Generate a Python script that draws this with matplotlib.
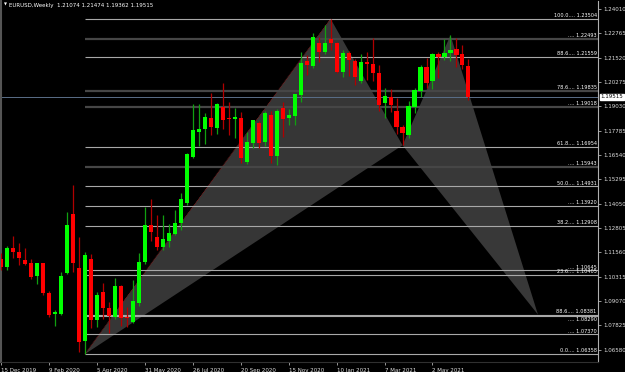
import numpy as np
import matplotlib
matplotlib.use("Agg")
import matplotlib.pyplot as plt

# weekly EURUSD candles, first week starts 15 Dec 2019
opens = [1.1120, 1.1080, 1.1176, 1.1160, 1.1117, 1.1100, 1.1035, 1.1100, 1.0948, 1.0840,
         1.0840, 1.1050, 1.1352, 1.1074, 1.0702, 1.1122, 1.0810, 1.0953, 1.0872, 1.0826,
         1.0984, 1.0826, 1.0800, 1.0897, 1.1107, 1.1296, 1.1235, 1.1184, 1.1214, 1.1250,
         1.1306, 1.1409, 1.1644, 1.1772, 1.1787, 1.1843, 1.1792, 1.1900, 1.1842, 1.1838,
         1.1843, 1.1618, 1.1716, 1.1818, 1.1720, 1.1860, 1.1650, 1.1895, 1.1843, 1.1853,
         1.1961, 1.2135, 1.2110, 1.2227, 1.2181, 1.2248, 1.2227, 1.2079, 1.2176, 1.2135,
         1.2033, 1.2130, 1.2120, 1.2074, 1.1920, 1.1951, 1.1879, 1.1797, 1.1757, 1.1900,
         1.1980, 1.2104, 1.2033, 1.2171, 1.2155, 1.2176, 1.2197, 1.2171, 1.21074]
highs = [1.1153, 1.1188, 1.1239, 1.1205, 1.1178, 1.1122, 1.1100, 1.1102, 1.0958, 1.0860,
         1.1055, 1.1362, 1.1500, 1.1237, 1.1160, 1.1147, 1.0952, 1.0999, 1.0900, 1.1025,
         1.0990, 1.0875, 1.1015, 1.1153, 1.1388, 1.1429, 1.1348, 1.1349, 1.1303, 1.1373,
         1.1460, 1.1665, 1.1915, 1.1916, 1.1869, 1.1971, 1.1922, 1.2023, 1.1925, 1.1894,
         1.1874, 1.1772, 1.1833, 1.1830, 1.1881, 1.1880, 1.1890, 1.1926, 1.1890, 1.1967,
         1.2181, 1.2167, 1.2278, 1.2258, 1.2319, 1.2350, 1.2230, 1.2190, 1.2186, 1.2144,
         1.2170, 1.2181, 1.2253, 1.2114, 1.1997, 1.1990, 1.1945, 1.1810, 1.1928, 1.1995,
         1.2117, 1.2150, 1.2177, 1.2182, 1.2245, 1.2266, 1.2254, 1.2218, 1.21474]
lows = [1.1066, 1.1068, 1.1125, 1.1090, 1.1090, 1.1020, 1.0995, 1.0940, 1.0827, 1.0780,
        1.0835, 1.1045, 1.1055, 1.0645, 1.0636, 1.0769, 1.0774, 1.0814, 1.0744, 1.0815,
        1.0782, 1.0775, 1.0795, 1.0880, 1.1095, 1.1215, 1.1168, 1.1167, 1.1186, 1.1245,
        1.1270, 1.1400, 1.1640, 1.1700, 1.1711, 1.1756, 1.1762, 1.1787, 1.1756, 1.1740,
        1.1613, 1.1610, 1.1688, 1.1689, 1.1700, 1.1612, 1.1603, 1.1745, 1.1809, 1.1810,
        1.1925, 1.2063, 1.2100, 1.2130, 1.2170, 1.2192, 1.2075, 1.2053, 1.2059, 1.2012,
        1.2022, 1.2037, 1.2033, 1.1880, 1.1843, 1.1873, 1.1761, 1.1704, 1.1743, 1.1870,
        1.1950, 1.1995, 1.1990, 1.2050, 1.2140, 1.2134, 1.2104, 1.2094, 1.19362]
closes = [1.1079, 1.1176, 1.1160, 1.1127, 1.1097, 1.1030, 1.1100, 1.0948, 1.0834, 1.0851,
          1.1035, 1.1296, 1.1102, 1.0700, 1.1143, 1.0810, 1.0938, 1.0872, 1.0831, 1.0984,
          1.0820, 1.0820, 1.0907, 1.1107, 1.1296, 1.1260, 1.1184, 1.1225, 1.1255, 1.1306,
          1.1429, 1.1659, 1.1782, 1.1787, 1.1849, 1.1797, 1.1915, 1.1833, 1.1838, 1.1848,
          1.1639, 1.1721, 1.1833, 1.1716, 1.1869, 1.1650, 1.1880, 1.1838, 1.1858, 1.1966,
          1.2125, 1.2115, 1.2258, 1.2181, 1.2227, 1.2227, 1.2079, 1.2176, 1.2140, 1.2053,
          1.2130, 1.2120, 1.2074, 1.1910, 1.1956, 1.1910, 1.1797, 1.1767, 1.1905, 1.1987,
          1.2104, 1.2023, 1.2171, 1.2155, 1.2176, 1.2192, 1.2166, 1.2115, 1.19515]

date_labels = ["15 Dec 2019", "9 Feb 2020", "5 Apr 2020", "31 May 2020", "26 Jul 2020",
               "20 Sep 2020", "15 Nov 2020", "10 Jan 2021", "7 Mar 2021", "2 May 2021"]
date_idx = [0, 8, 16, 24, 32, 40, 48, 56, 64, 72]

price_ticks = [1.24010, 1.22765, 1.21520, 1.20275, 1.19030, 1.17785, 1.16540, 1.15295,
               1.14050, 1.12805, 1.11560, 1.10315, 1.09070, 1.07825, 1.06580]

# fibo levels: (label, price)
fib_names = ["100.0", "", "88.6", "78.6", "", "61.8", "", "50.0", "", "38.2",
             "", "23.6", "88.6", "", "", "0.0"]
fib_prices = [1.23504, 1.22493, 1.21559, 1.19835, 1.19018, 1.16954, 1.15943, 1.14931,
              1.13920, 1.12908, 1.10645, 1.10405, 1.08381, 1.08290, 1.07370, 1.06358]
fib_dark = [False, True, False, True, True, False, True, False,
            False, False, False, False, False, False, False, False]

# harmonic pattern points X, A, B, C, D
pat_idx = [14, 55, 67, 75, 89.6]
pat_price = [1.06358, 1.23504, 1.1704, 1.2267, 1.08381]

last_price = 1.19515
header = "EURUSD,Weekly  1.21074 1.21474 1.19362 1.19515"

bg = "black"
fig = plt.figure(figsize=(6.25, 3.72), dpi=100, facecolor=bg)
ax = fig.add_axes([1 / 625, 10 / 372, 597 / 625, 361 / 372], facecolor=bg)

x = np.arange(len(opens))
o = np.array(opens)
c = np.array(closes)
up = c >= o

# pattern triangles
X, A, B, C, D = list(zip(pat_idx, pat_price))
ax.fill([X[0], A[0], B[0]], [X[1], A[1], B[1]], color="#363636", zorder=1, lw=0)
ax.fill([B[0], C[0], D[0]], [B[1], C[1], D[1]], color="#383838", zorder=1, lw=0)
ax.plot([X[0], A[0]], [X[1], A[1]], color="#8a1a1a", lw=0.6, ls=(0, (1, 1)), zorder=1.5)

# fibo lines
xr = 99.6
for k, (name, p, dark) in enumerate(zip(fib_names, fib_prices, fib_dark)):
    if dark:
        ax.hlines(p, pat_idx[0], xr, color="#464646", lw=1.6, zorder=2)
    else:
        ax.hlines(p, pat_idx[0], xr, color="#a8a8a8", lw=0.8, zorder=2)
    # the second 1.08 label sits under its line so the two do not pile up
    if p == 1.08290:
        ax.text(xr - 0.2, p - 0.0003, f"{name}.... {p:.5f}", color="white",
                fontsize=3.6, ha="right", va="top", zorder=5)
    else:
        ax.text(xr - 0.2, p + 0.0004, f"{name}.... {p:.5f}", color="white",
                fontsize=3.6, ha="right", va="bottom", zorder=5)

# current price line
ax.axhline(last_price, color="#5a6e88", lw=0.7, zorder=2)

# candles
wick_col = np.where(up, "#10a010", "#b00000")
body_col = np.where(up, "#00ff00", "#ff0000")
ax.vlines(x, lows, highs, colors=wick_col, lw=0.9, zorder=3)
h = np.maximum(np.abs(c - o), 0.0003)
ax.bar(x, h, bottom=np.minimum(o, c), width=0.68, color=body_col, lw=0, zorder=4)

ax.set_xlim((1 - 0.3) / 6, (598 - 0.3) / 6)
ax.set_ylim(1.05954, 1.24419)

# axes look
ax.spines["top"].set_visible(False)
ax.spines["left"].set_color("#555555")
ax.spines["right"].set_color("#b0b0b0")
ax.spines["bottom"].set_color("#303030")
ax.spines["left"].set_linewidth(1.5)
ax.spines["right"].set_linewidth(0.8)
ax.spines["bottom"].set_linewidth(0.8)

ax.yaxis.tick_right()
ax.set_yticks(price_ticks)
ax.set_yticklabels([f"{p:.5f}" for p in price_ticks])
ax.tick_params(axis="y", colors="#b0b0b0", labelcolor="#e0e0e0", labelsize=4,
               length=2.5, width=0.6, pad=1.5)
ax.set_xticks(date_idx)
ax.set_xticklabels(date_labels, ha="left")
ax.tick_params(axis="x", colors="#b0b0b0", labelcolor="#e0e0e0", labelsize=4,
               length=2.5, width=0.6, pad=1.5)

# current price box on the axis
ax.text(1.004, last_price, f"{last_price:.5f}", transform=ax.get_yaxis_transform(),
        fontsize=4, color="black", va="center", ha="left",
        bbox=dict(boxstyle="square,pad=0.15", fc="white", ec="white"), zorder=6)

# header
fig.text(4 / 625, 1 - 5 / 372, "\u25bc", color="white", fontsize=2.8, va="center")
fig.text(9 / 625, 1 - 5 / 372, header, color="white", fontsize=4, va="center")

fig.savefig("out.png", dpi=100, facecolor=bg)
